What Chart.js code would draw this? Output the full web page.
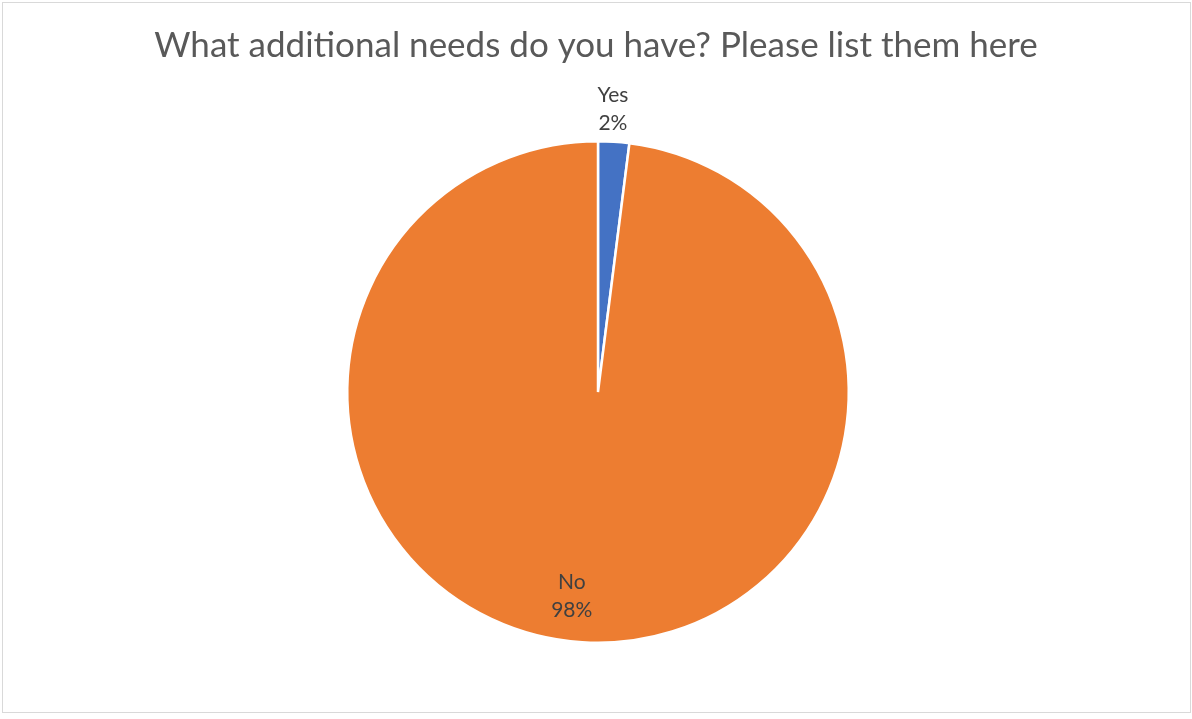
<!DOCTYPE html>
<html>
<head>
<meta charset="utf-8">
<script src="https://cdn.jsdelivr.net/npm/chart.js@4"></script>
<style>
  html, body { margin: 0; padding: 0; background: #ffffff; }
  #wrap { position: relative; width: 1192px; height: 719px; }
  #frame { position: absolute; left: 2px; top: 2px; width: 1187px; height: 709px; border: 1px solid #d9d9d9; pointer-events: none; }
  canvas { display: block; }
</style>
</head>
<body>
<div id="wrap">
  <canvas id="c" width="1192" height="719"></canvas>
  <div id="frame"></div>
</div>
<script>
const titleText = 'What additional needs do you have? Please list them here';
const categories = ['Yes', 'No'];
const shares = [2, 98];
const sliceColors = ['#4472C4', '#ED7D31'];

// Title drawn centred above the pie
const titlePlugin = {
  id: 'topTitle',
  afterDraw(chart) {
    const ctx = chart.ctx;
    ctx.save();
    ctx.font = '35px Lato, Carlito, "Open Sans", sans-serif';
    ctx.fillStyle = '#595959';
    ctx.textAlign = 'center';
    ctx.textBaseline = 'middle';
    ctx.fillText(titleText, 596, 46);
    ctx.restore();
  }
};

// Category name + percentage next to each slice
const sliceLabels = {
  id: 'sliceLabels',
  afterDatasetsDraw(chart) {
    const ctx = chart.ctx;
    const meta = chart.getDatasetMeta(0);
    const total = shares.reduce((a, b) => a + b, 0);
    ctx.save();
    ctx.font = '21px Lato, Carlito, "Open Sans", sans-serif';
    ctx.fillStyle = '#404040';
    ctx.textAlign = 'center';
    ctx.textBaseline = 'middle';
    meta.data.forEach((arc, i) => {
      const p = arc.getProps(['x', 'y', 'startAngle', 'endAngle', 'outerRadius'], true);
      const mid = (p.startAngle + p.endAngle) / 2;
      const small = shares[i] / total < 0.1;
      // small slices get their label outside the rim, large ones inside
      const r = small ? p.outerRadius + 32 : p.outerRadius * 0.82;
      const shift = small ? -0.01 : 0.065;
      const a = mid + shift;
      const cx = p.x + Math.cos(a) * r;
      const cy = p.y + Math.sin(a) * r;
      const pct = Math.round(shares[i] / total * 100) + '%';
      ctx.fillText(categories[i], cx, cy - 14);
      ctx.fillText(pct, cx, cy + 14);
    });
    ctx.restore();
  }
};

new Chart(document.getElementById('c'), {
  type: 'pie',
  data: {
    labels: categories,
    datasets: [{
      data: shares,
      backgroundColor: sliceColors,
      borderColor: '#ffffff',
      borderWidth: 2.5
    }]
  },
  options: {
    responsive: false,
    animation: false,
    layout: { padding: { left: 346, right: 342, top: 140, bottom: 75 } },
    plugins: {
      legend: { display: false },
      title: { display: false },
      tooltip: { enabled: false }
    }
  },
  plugins: [titlePlugin, sliceLabels]
});
</script>
</body>
</html>
